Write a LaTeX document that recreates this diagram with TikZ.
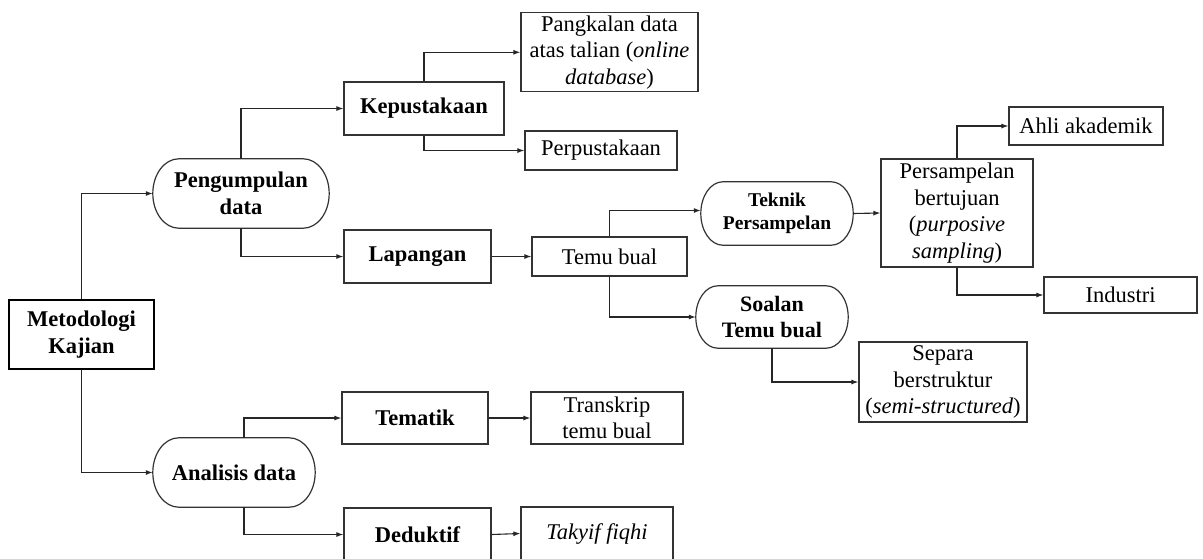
\documentclass[tikz,border=0pt]{standalone}
\usepackage{fontspec}
\setmainfont{Liberation Serif}
\usetikzlibrary{arrows.meta,calc}
\tikzset{
  txt/.style={inner sep=0pt, align=center, font=\fontsize{22.5}{26.5}\selectfont},
  box/.style 2 args={txt, draw=black!80, line width=1.2pt, minimum width=#1, minimum height=#2},
  mainbox/.style 2 args={box={#1}{#2}, draw=black, line width=2.6pt},
  pill/.style 2 args={txt, minimum width=#1, minimum height=#2},
  link/.style={draw=black!85, line width=1.1pt, -{Latex[length=7pt,width=5pt]}},
  pillline/.style={draw=black!80, line width=1.2pt}
}
% outline with half-elliptic ends (horizontal radius #2) around a pill node
\newcommand\pillframe[2]{%
  \path[pillline] let \p1=(#1.north east), \p2=(#1.south west), \n1={0.5*(\y1-\y2)} in
    (\x2+#2,\y1) -- (\x1-#2,\y1)
    arc[start angle=90, end angle=-90, x radius=#2, y radius=\n1]
    -- (\x2+#2,\y2)
    arc[start angle=270, end angle=90, x radius=#2, y radius=\n1] -- cycle;}
\begin{document}
\begin{tikzpicture}[x=1pt,y=-1pt]
\fill[white] (0,0) rectangle (1203,558);
\useasboundingbox (0,0) rectangle (1203,558);

% root
\node[mainbox={145pt}{69pt}, font=\fontsize{22.5}{26.5}\selectfont\bfseries] (meto) at (81.5,334.5) {Metodologi\\Kajian};

% data collection branch
\node[pill={176pt}{69pt}, font=\fontsize{22.5}{26.5}\selectfont\bfseries] (peng) at (241,193.5) {Pengumpulan\\data};
\node[box={160pt}{53pt}, font=\fontsize{22.5}{26.5}\selectfont\bfseries] (kep) at (424,108.5) {Kepustakaan};
\node[box={147pt}{53pt}, font=\fontsize{22.5}{26.5}\selectfont\bfseries] (lap) at (417.5,256.5) {Lapangan};
\node[box={177pt}{79pt}] (pang) at (609.5,52.3) {Pangkalan data\\atas talian (\textit{online}\\\textit{database})};
\node[box={152pt}{39pt}] (perp) at (601,150.5) {Perpustakaan};
\node[box={155pt}{39pt}] (temu) at (609.5,256.5) {Temu bual};
\node[pill={152pt}{63pt}, font=\fontsize{19.5}{23}\selectfont\bfseries] (tek) at (777,213.5) {Teknik\\Persampelan};
\node[pill={152pt}{62pt}, font=\fontsize{22}{26}\selectfont\bfseries] (soal) at (772,317) {Soalan\\Temu bual};
\node[box={152pt}{108pt}] (purp) at (957,213) {Persampelan\\bertujuan\\(\textit{purposive}\\\textit{sampling})};
\node[box={154pt}{38pt}] (ahli) at (1086,126) {Ahli akademik};
\node[box={153pt}{36pt}] (ind) at (1120.5,295) {Industri};
\node[box={168pt}{80pt}] (sep) at (943,382) {Separa\\berstruktur\\(\textit{semi-structured})};

% data analysis branch
\node[pill={162pt}{69pt}, font=\fontsize{22.5}{26.5}\selectfont\bfseries] (anal) at (234,472.5) {Analisis data};
\node[box={146pt}{52pt}, font=\fontsize{22.5}{26.5}\selectfont\bfseries] (tem) at (415,418) {Tematik};
\node[box={152pt}{52pt}] (trans) at (607,418) {Transkrip\\temu bual};
\node[box={147pt}{53pt}, font=\fontsize{22.5}{26.5}\selectfont\bfseries] (ded) at (417.5,534.5) {Deduktif};
\node[box={152pt}{53pt}] (tak) at (597,533.5) {\textit{Takyif fiqhi}};

% pill outlines
\pillframe{peng}{26pt}
\pillframe{tek}{22pt}
\pillframe{soal}{22pt}
\pillframe{anal}{26pt}

% connectors
\draw[link] (meto.north) |- (peng.west);
\draw[link] (meto.south) |- (anal.west);
\draw[link] (peng.north) |- (kep.west);
\draw[link] (peng.south) |- (lap.west);
\draw[link] (kep.north) |- (pang.west);
\draw[link] (kep.south) |- (perp.west);
\draw[link] (lap.east) -- (temu.west);
\draw[link] (temu.north) |- ([yshift=3pt]tek.west);
\draw[link] (temu.south) |- (soal.west);
\draw[link] (tek.east) -- (purp.west);
\draw[link] (purp.north) |- (ahli.west);
\draw[link] (purp.south) |- (ind.west);
\draw[link] (soal.south) |- (sep.west);
\draw[link] ([xshift=10pt]anal.north) |- (tem.west);
\draw[link] ([xshift=10pt]anal.south) |- (ded.west);
\draw[link] (tem.east) -- (trans.west);
\draw[link] (ded.east) -- (tak.west);
\end{tikzpicture}
\end{document}
